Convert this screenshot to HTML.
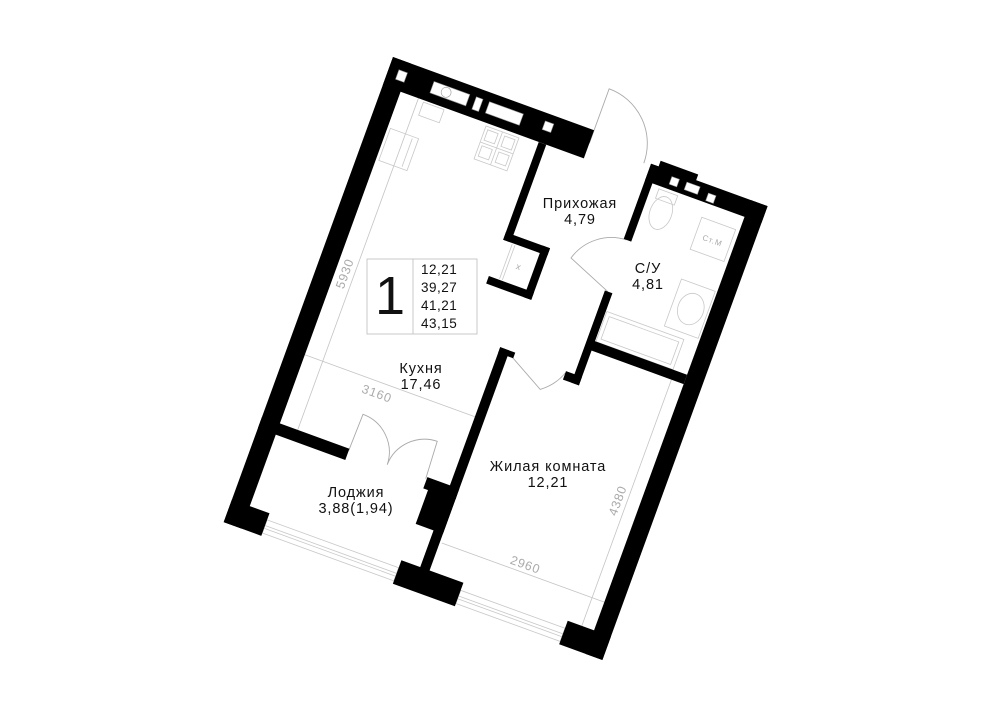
<!DOCTYPE html>
<html><head><meta charset="utf-8"><style>
html,body{margin:0;padding:0;background:#fff;}
svg{display:block;}
.lbl{font-family:"Liberation Sans",sans-serif;font-size:14.5px;fill:#111;text-anchor:middle;letter-spacing:0.9px;}
.dim{font-family:"Liberation Sans",sans-serif;font-size:12.5px;fill:#aaa;text-anchor:middle;letter-spacing:0.8px;}
</style></head><body>
<svg width="1000" height="707" viewBox="0 0 1000 707" xmlns="http://www.w3.org/2000/svg">
<rect width="1000" height="707" fill="#fff"/>
<g transform="translate(393,57) rotate(20)">
  <g fill="none" stroke="#c8c8c8" stroke-width="0.8">
    <rect x="22" y="68" width="30" height="34"/>
    <line x1="46" y1="70" x2="46" y2="100"/>
    <rect x="44" y="32" width="22" height="14"/>
    <rect x="111" y="33" width="35" height="35"/>
    <line x1="128.5" y1="33" x2="128.5" y2="68"/><line x1="111" y1="50" x2="146" y2="50"/>
    <rect x="114" y="36" width="11" height="11"/><rect x="132" y="36" width="11" height="11"/>
    <rect x="114" y="53" width="11" height="11"/><rect x="132" y="53" width="11" height="11"/>
    <line x1="176" y1="135" x2="176" y2="172"/><line x1="179" y1="135" x2="179" y2="172"/>
    <ellipse cx="305" cy="55" rx="11" ry="17"/>
    <rect x="295" y="33" width="20" height="10"/>
    <rect x="345" y="45" width="36" height="34"/>
    <rect x="347" y="110" width="36" height="50"/>
    <ellipse cx="366" cy="135" rx="13" ry="16"/>
    <rect x="288" y="166" width="82" height="32"/>
    <rect x="292" y="170" width="74" height="24"/>
    <rect x="40" y="478" width="140" height="14"/>
    <line x1="40" y1="484" x2="180" y2="484"/><line x1="40" y1="487" x2="180" y2="487"/>
    <rect x="246" y="478" width="111" height="14"/>
    <line x1="246" y1="484" x2="357" y2="484"/><line x1="246" y1="487" x2="357" y2="487"/>
  </g>
  <g fill="none" stroke="#aaa" stroke-width="0.9">
    <path d="M214 14 L214 -44 A58 58 0 0 1 272 14"/>
    <path d="M282 147 L236 128 A50 50 0 0 1 282 92"/>
    <path d="M207 237 L252 262 A52 52 0 0 0 270 238"/>
    <path d="M93 385 L94 346 A40 40 0 0 1 134 385"/>
    <path d="M175 385 L173 346 A40 40 0 0 0 134 385"/>
  </g>
  <g stroke="#c4c4c4" stroke-width="0.8" fill="#c4c4c4">
    <line x1="38" y1="30" x2="38" y2="383"/>
    <line x1="19" y1="310" x2="200" y2="310"/>
    <line x1="212" y1="440" x2="385" y2="440"/>
    <line x1="372" y1="208" x2="372" y2="470"/>
  </g>
  <text class="dim" transform="translate(33,220) rotate(-90)">5930</text>
  <text class="dim" transform="translate(100,326)">3160</text>
  <text class="dim" transform="translate(298,436)">2960</text>
  <text class="dim" transform="translate(367,340) rotate(-90)">4380</text>
  <text class="dim" style="font-size:8px" transform="translate(363,66)">Ст.М</text>
  <text class="dim" style="font-size:9px" transform="translate(190,157)">x</text>
  <g fill="#000">
    <rect x="0" y="0" width="214" height="30"/>
    <rect x="0" y="0" width="19" height="495"/>
    <rect x="0" y="471" width="40" height="24"/>
    <rect x="166" y="30" width="8" height="104"/>
    <rect x="166" y="126" width="47" height="8"/>
    <rect x="205" y="126" width="8" height="55"/>
    <rect x="165" y="173" width="48" height="8"/>
    <rect x="279" y="12" width="124" height="18"/>
    <rect x="287" y="6" width="40" height="8"/>
    <rect x="279" y="12" width="8" height="80"/>
    <rect x="279" y="147" width="8" height="98"/>
    <rect x="270" y="236" width="17" height="9"/>
    <rect x="285" y="198" width="100" height="10"/>
    <rect x="385" y="12" width="18" height="483"/>
    <rect x="200" y="236" width="10" height="240"/>
    <rect x="200" y="236" width="16" height="6"/>
    <rect x="0" y="383" width="93" height="12"/>
    <rect x="176" y="383" width="34" height="12"/>
    <rect x="181" y="390" width="29" height="41"/>
    <rect x="180" y="470" width="66" height="25"/>
    <rect x="357" y="470" width="46" height="25"/>
  </g>
  <g fill="#fff" stroke="#999" stroke-width="0.6">
    <rect x="10" y="10" width="9" height="10"/>
    <rect x="47" y="9" width="38" height="12"/>
    <rect x="92" y="9" width="7" height="13"/>
    <rect x="106" y="9" width="36" height="12"/>
    <rect x="165" y="8" width="9" height="9"/>
    <rect x="303" y="17" width="8" height="8"/>
    <rect x="319" y="17" width="14" height="8"/>
    <rect x="343" y="20" width="8" height="8"/>
  </g>
  <circle cx="62" cy="15" r="5" fill="none" stroke="#999" stroke-width="0.6"/>
</g>
<g fill="none" stroke="#bbb" stroke-width="0.8">
  <rect x="367" y="259" width="110" height="75"/>
  <line x1="413" y1="259" x2="413" y2="334"/>
</g>
<text x="390" y="314" style="font-family:'Liberation Sans',sans-serif;font-size:54px;font-weight:300;fill:#111;text-anchor:middle">1</text>
<g style="font-family:'Liberation Sans',sans-serif;font-size:13.5px;fill:#111;letter-spacing:0.5px">
  <text x="421" y="274">12,21</text>
  <text x="421" y="292">39,27</text>
  <text x="421" y="310">41,21</text>
  <text x="421" y="328">43,15</text>
</g>
<text class="lbl" x="580" y="208">Прихожая</text>
<text class="lbl" x="580" y="224">4,79</text>
<text class="lbl" x="648" y="273">С/У</text>
<text class="lbl" x="648" y="289">4,81</text>
<text class="lbl" x="421" y="373">Кухня</text>
<text class="lbl" x="421" y="389">17,46</text>
<text class="lbl" x="548" y="471">Жилая комната</text>
<text class="lbl" x="548" y="487">12,21</text>
<text class="lbl" x="356" y="497">Лоджия</text>
<text class="lbl" x="356" y="513">3,88(1,94)</text>
</svg>
</body></html>
